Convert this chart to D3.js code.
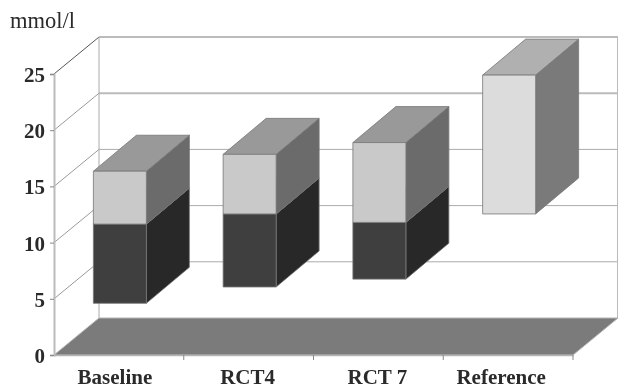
<!DOCTYPE html>
<html>
<head>
<meta charset="utf-8">
<script src="https://cdn.jsdelivr.net/npm/d3@7"></script>
<style>
  html, body { margin: 0; padding: 0; background: #fff; }
  svg { display: block; filter: blur(0.4px); }
  text { font-family: "Liberation Serif", serif; fill: #2a2a2a; }
</style>
</head>
<body>
<div id="chart"></div>
<script>
const categories = ["Baseline", "RCT4", "RCT 7", "Reference"];
const gapValues = [4.6, 6.05, 6.75, 12.55];
const lowerValues = [7.05, 6.5, 5.05, 0];
const upperValues = [4.7, 5.3, 7.1, 12.35];
const yTicks = [0, 5, 10, 15, 20, 25];

let width = 618,
    height = 389,
    margin = ({ top: 74, right: 45, bottom: 34, left: 54 }),
    wallX = 45,
    wallY = -37,
    depthX = 43,
    depthY = -36,
    barWidth = 53;

const svg = d3.select("#chart")
  .append("svg")
  .attr("width", width)
  .attr("height", height)
  .attr("viewBox", [0, 0, width, height]);

let x = d3.scaleBand()
  .domain(categories)
  .range([margin.left, width - margin.right]);

let y = d3.scaleLinear()
  .domain([0, 25])
  .range([height - margin.bottom, margin.top]);

let rows = categories.map((c, i) => ({
  category: c, gap: gapValues[i], lower: lowerValues[i], upper: upperValues[i]
}));
let stacked = d3.stack().keys(["gap", "lower", "upper"])(rows);

// back wall and left wall gridlines
for (let t of yTicks.slice(1)) {
  let major = t >= 20;
  svg.append("path")
    .attr("fill", "none")
    .attr("stroke", t === 25 ? "#555" : "#999")
    .attr("d", d3.line()([
      [margin.left, y(t)],
      [margin.left + wallX, y(t) + wallY]
    ]))
    .attr("stroke-width", 1);
  svg.append("line")
    .attr("x1", margin.left + wallX)
    .attr("x2", width)
    .attr("y1", y(t) + wallY)
    .attr("y2", y(t) + wallY)
    .attr("stroke", major ? "#bbb" : "#aaa")
    .attr("stroke-width", major ? 2 : 1);
}

svg.append("line")
  .attr("x1", margin.left + wallX)
  .attr("x2", margin.left + wallX)
  .attr("y1", y(25) + wallY)
  .attr("y2", y(0) + wallY)
  .attr("stroke", "#aaa");

svg.append("line")
  .attr("x1", width - 0.5)
  .attr("x2", width - 0.5)
  .attr("y1", y(25) + wallY)
  .attr("y2", y(0) + wallY)
  .attr("stroke", "#bbb");

// floor
svg.append("polygon")
  .attr("points", [
    [margin.left, y(0)],
    [width - margin.right, y(0)],
    [width, y(0) + wallY],
    [margin.left + wallX, y(0) + wallY]
  ].join(" "))
  .attr("fill", "#7b7b7b")
  .attr("stroke", "#b5b5b5");

// boxes
const shades = {
  lower: { front: "#3f3f3f", side: "#282828", top: "#3f3f3f" },
  upper: { front: "#c9c9c9", side: "#6b6b6b", top: "#999999" },
  reference: { front: "#dcdcdc", side: "#7a7a7a", top: "#b0b0b0" }
};

function drawBox(g, x0, y0, y1, colors) {
  g.append("polygon")
    .attr("points", [[x0 + barWidth, y0], [x0 + barWidth + depthX, y0 + depthY], [x0 + barWidth + depthX, y1 + depthY], [x0 + barWidth, y1]].join(" "))
    .attr("fill", colors.side);
  g.append("polygon")
    .attr("points", [[x0, y1], [x0 + barWidth, y1], [x0 + barWidth + depthX, y1 + depthY], [x0 + depthX, y1 + depthY]].join(" "))
    .attr("fill", colors.top);
  g.append("rect")
    .attr("x", x0)
    .attr("y", y1)
    .attr("width", barWidth)
    .attr("height", y0 - y1)
    .attr("fill", colors.front);
}

categories.forEach((c, i) => {
  let g = svg.append("g").attr("class", "bar")
    .attr("stroke", "#777")
    .attr("stroke-width", 0.8)
    .attr("stroke-linejoin", "round");
  let x0 = x(c) + x.bandwidth() / 2 - barWidth / 2 + 1;
  if (lowerValues[i] > 0) {
    drawBox(g, x0, y(stacked[1][i][0]), y(stacked[1][i][1]), shades.lower);
  }
  drawBox(g, x0, y(stacked[2][i][0]), y(stacked[2][i][1]),
    c === "Reference" ? shades.reference : shades.upper);
});

// front axes
let yAxis = svg.append("g")
  .attr("transform", `translate(${margin.left},0)`)
  .call(d3.axisLeft(y).tickValues(yTicks).tickSize(4).tickPadding(5).tickFormat(d3.format("d")));

yAxis.select(".domain").attr("stroke", "#bbb").attr("stroke-width", 2);
yAxis.selectAll(".tick line").attr("stroke", "#888");
yAxis.selectAll(".tick text")
  .attr("font-size", 21)
  .attr("font-weight", "bold")
  .attr("font-family", "Liberation Serif")
  .attr("dy", "0.36em");

let xAxis = svg.append("g")
  .attr("transform", `translate(0,${y(0)})`)
  .call(d3.axisBottom(x).tickSize(0).tickPadding(14));

xAxis.select(".domain").attr("stroke", "#b5b5b5").attr("stroke-width", 1.5);

const labelShift = { "Baseline": -4, "RCT4": -1, "RCT 7": -1, "Reference": -7 };
xAxis.selectAll(".tick text")
  .attr("font-size", 21)
  .attr("font-weight", "bold")
  .attr("font-family", "Liberation Serif")
  .attr("dx", d => labelShift[d]);

for (let i = 1; i <= categories.length; i++) {
  let tx = margin.left + i * x.step();
  xAxis.append("line")
    .attr("x1", tx).attr("x2", tx)
    .attr("y1", 0).attr("y2", 5)
    .attr("stroke", "#888");
}

svg.append("text")
  .text("mmol/l")
  .attr("x", 10)
  .attr("y", 28)
  .attr("font-size", 22.5);
</script>
</body>
</html>
